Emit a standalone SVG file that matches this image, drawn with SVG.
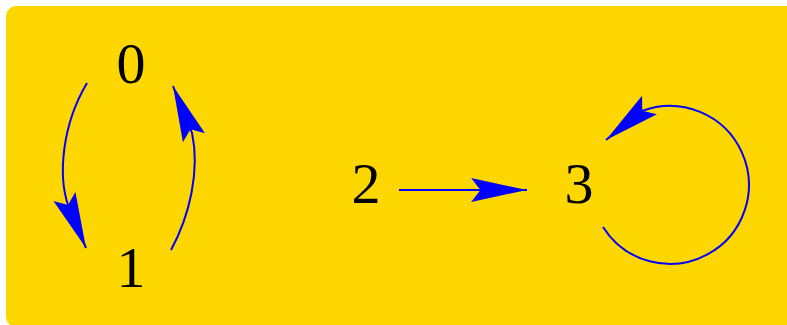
<svg xmlns="http://www.w3.org/2000/svg" width="787" height="325" viewBox="0 0 787 325">
<style>
.lbl{font-family:"Liberation Serif","Times New Roman",serif;font-size:58px;fill:#000;text-anchor:middle}
.edge{fill:none;stroke:#0000ff;stroke-width:2}
</style>
<defs>
<marker id="ah" markerUnits="userSpaceOnUse" orient="auto" markerWidth="60" markerHeight="30" viewBox="-56 -13 58 26" refX="0" refY="0" overflow="visible">
<path d="M0,0 L-54,-11.5 L-45,0 L-54,11.5 Z" fill="#0000ff"/>
</marker>
</defs>
<rect x="6" y="6" width="800" height="321" rx="10" ry="10" fill="#FFD700"/>
<g id="connectors">
<path class="edge" d="M87,83 C62,125 58,175 68,205 L86,248" marker-end="url(#ah)"/>
<path class="edge" d="M171,250 C190,215 200,170 192,133 L173,86" marker-end="url(#ah)"/>
<path class="edge" d="M399,190 L527,190" marker-end="url(#ah)"/>
<path class="edge" d="M603,227 A79,79 0 1 0 642,111 L606,140" marker-end="url(#ah)"/>
</g>
<g id="node0"><text class="lbl" x="131" y="83">0</text></g>
<g id="node1"><text class="lbl" x="131" y="287">1</text></g>
<g id="node2"><text class="lbl" x="366" y="203">2</text></g>
<g id="node3"><text class="lbl" x="579" y="203">3</text></g>
</svg>
